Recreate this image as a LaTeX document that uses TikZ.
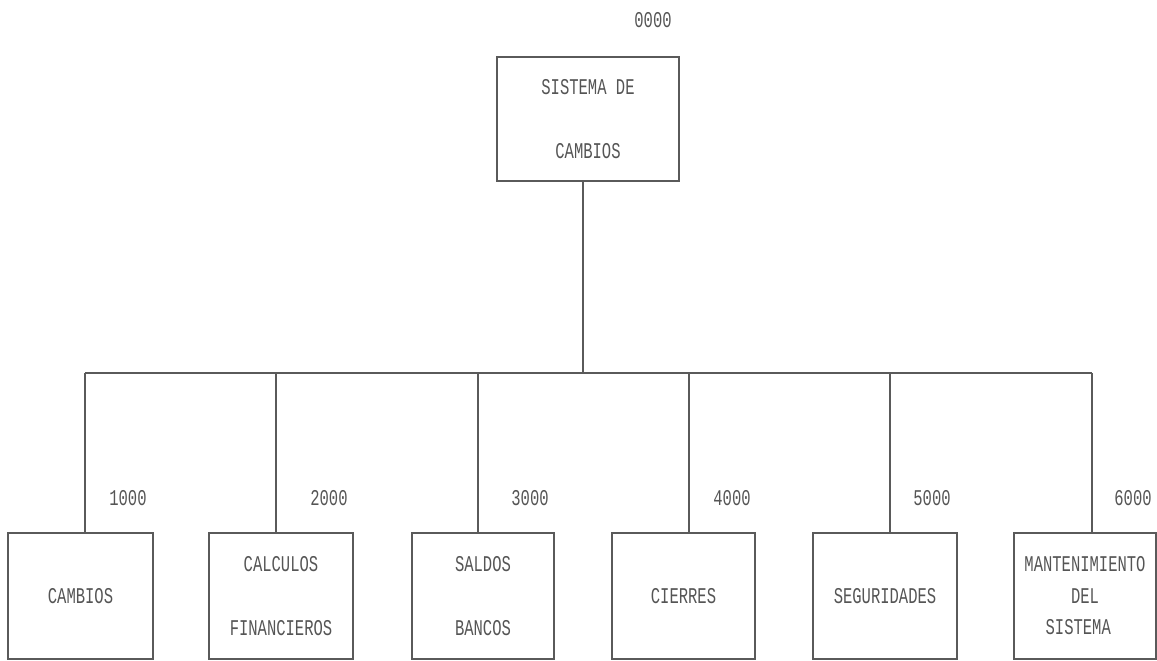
\documentclass[tikz,border=0pt]{standalone}
\usepackage{fontspec}
\newfontfamily\plotfont[FakeStretch=0.69]{Liberation Mono}
\definecolor{ink}{HTML}{5A5A5A}
\definecolor{txt}{HTML}{555555}
\begin{document}
\begin{tikzpicture}[x=1pt,y=-1pt,line width=1.1pt,
  box/.style={draw=ink, rectangle, inner sep=0pt, align=center, text=txt,
    font=\plotfont\fontsize{22.5}{64}\selectfont},
  box3/.style={box, font=\plotfont\fontsize{22.5}{31.5}\selectfont},
  num/.style={inner sep=0pt, text=txt, font=\plotfont\fontsize{22.5}{27}\selectfont},
  conn/.style={draw=ink}]
\useasboundingbox (0,0) rectangle (1157,661);
% root
\node[box, minimum width=182pt, minimum height=124pt] (top) at (588,119) {SISTEMA DE\\CAMBIOS};
\node[num] (n0) at (653,20) {0000};
% children
\node[box, minimum width=145pt, minimum height=126pt] (b1) at (80.5,596) {CAMBIOS};
\node[box, minimum width=144pt, minimum height=126pt] (b2) at (281,596) {CALCULOS\\FINANCIEROS};
\node[box, minimum width=142pt, minimum height=126pt] (b3) at (483,596) {SALDOS\\BANCOS};
\node[box, minimum width=143pt, minimum height=126pt] (b4) at (683.5,596) {CIERRES};
\node[box, minimum width=144pt, minimum height=126pt] (b5) at (885,596) {SEGURIDADES};
\node[box3, minimum width=142pt, minimum height=126pt] (b6) at (1085,596) {MANTENIMIENTO\\DEL\hspace*{2.2em}\\SISTEMA\hspace*{0.6em}};
% numbers
\node[num] (n1) at (128,498) {1000};
\node[num] (n2) at (329,498) {2000};
\node[num] (n3) at (530,498) {3000};
\node[num] (n4) at (732,498) {4000};
\node[num] (n5) at (932,498) {5000};
\node[num] (n6) at (1133,498) {6000};
% junctions
\coordinate (hub) at (583,373);
\coordinate (j1) at (85,373);
\coordinate (j2) at (276,373);
\coordinate (j3) at (478,373);
\coordinate (j4) at (689,373);
\coordinate (j5) at (890,373);
\coordinate (j6) at (1092,373);
\draw[conn] (top.south -| hub) -- (hub);
\draw[conn] (j1) -- (j6);
\draw[conn] (j1) -- (j1 |- b1.north);
\draw[conn] (j2) -- (j2 |- b2.north);
\draw[conn] (j3) -- (j3 |- b3.north);
\draw[conn] (j4) -- (j4 |- b4.north);
\draw[conn] (j5) -- (j5 |- b5.north);
\draw[conn] (j6) -- (j6 |- b6.north);
\end{tikzpicture}
\end{document}
